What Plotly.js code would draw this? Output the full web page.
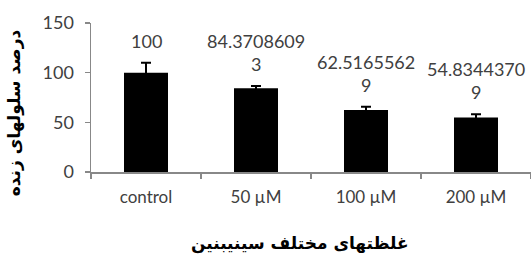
<!DOCTYPE html>
<html><head><meta charset="utf-8">
<script src="https://cdn.plot.ly/plotly-3.0.1.min.js"></script>
<style>html,body{margin:0;padding:0;background:#fff;}#chart{width:531px;height:269px;}</style>
</head><body><div id="chart"></div>
<script>
const categories = ["control", "50 µM", "100 µM", "200 µM"];
const values = [100, 84.3708609, 62.5165562, 54.8344370];
const errors = [10, 2.3, 3.2, 3.4];
const labels = ["100", "84.3708609<br>3", "62.5165562<br>9", "54.8344370<br>9"];
const yTitle = "درصد سلولهای زنده";
const xTitle = "غلظتهای مختلف سینیبنین";

const txt = "#404040";
const axisCol = "#888888";

const trace = {
  type: "bar", x: categories, y: values,
  marker: {color: "#000000", line: {width: 0}},
  error_y: {type: "data", array: errors, visible: true, color: "#000000", thickness: 2, width: 5},
  hoverinfo: "skip"
};

const annotations = categories.map((c, i) => ({
  x: c, y: values[i] + errors[i], xref: "x", yref: "y",
  text: labels[i], showarrow: false, yanchor: "bottom", yshift: 9,
  font: {family: "Lato, 'Open Sans', sans-serif", size: 18, color: txt}
}));
annotations.push({
  xref: "paper", yref: "paper", x: -0.173, y: 0.40, xanchor: "center", yanchor: "middle",
  textangle: -90, text: "<b>" + yTitle + "</b>", showarrow: false,
  font: {family: "'DejaVu Sans', sans-serif", size: 17, color: "#000"}
});
annotations.push({
  xref: "paper", yref: "paper", x: 0.475, y: -0.477, xanchor: "center", yanchor: "middle",
  text: "<b>" + xTitle + "</b>", showarrow: false,
  font: {family: "'DejaVu Sans', sans-serif", size: 17, color: "#000"}
});

const layout = {
  width: 531, height: 269,
  margin: {l: 91, r: 0, t: 23, b: 97, pad: 0},
  paper_bgcolor: "#fff", plot_bgcolor: "#fff",
  showlegend: false, bargap: 0.6,
  font: {family: "Lato, 'Open Sans', sans-serif", size: 18, color: txt},
  xaxis: {
    type: "category", showline: true, linecolor: axisCol, linewidth: 1.5,
    ticks: "outside", tickson: "boundaries", ticklen: 5, tickcolor: axisCol, tickwidth: 1.5,
    showgrid: false, zeroline: false, ticklabelstandoff: 9,
    tickfont: {family: "Lato, 'Open Sans', sans-serif", size: 17, color: txt}
  },
  yaxis: {
    range: [0, 150], tickvals: [0, 50, 100, 150], showline: true, linecolor: axisCol, linewidth: 1.5,
    ticks: "outside", ticklen: 5, tickcolor: axisCol, tickwidth: 1.5,
    showgrid: false, zeroline: false, ticklabelstandoff: 7,
    tickfont: {family: "Lato, 'Open Sans', sans-serif", size: 18, color: txt}
  },
  annotations: annotations
};

Plotly.newPlot("chart", [trace], layout, {displayModeBar: false, staticPlot: true});
</script>
</body></html>
